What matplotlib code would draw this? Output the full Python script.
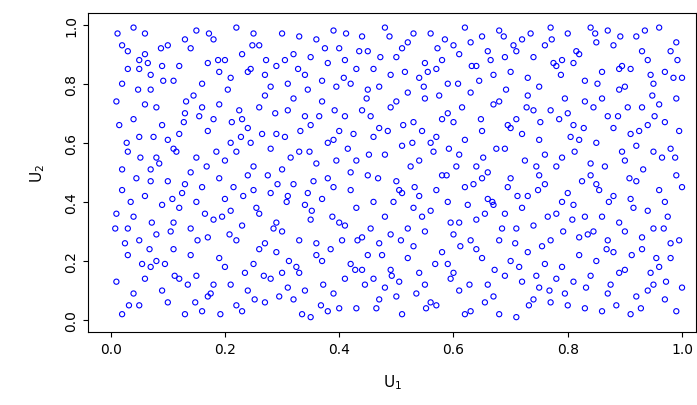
import matplotlib
matplotlib.use("Agg")
import matplotlib.pyplot as plt

# points (values as (U1, U2) pairs)
pts = """
0.01 0.74 0.02 0.93 0.03 0.85 0.04 0.99 0.05 0.88 0.06 0.90 0.07 0.83 0.08 0.72 0.10 0.93 0.12 0.86
0.14 0.92 0.16 0.80 0.18 0.95 0.20 0.88 0.22 0.99 0.24 0.84 0.26 0.93 0.28 0.79 0.30 0.97 0.32 0.90
0.34 0.83 0.36 0.95 0.38 0.87 0.40 0.92 0.42 0.80 0.44 0.96 0.46 0.85 0.48 0.99 0.50 0.89 0.52 0.94
0.54 0.82 0.56 0.97 0.58 0.88 0.60 0.93 0.62 0.99 0.64 0.86 0.66 0.91 0.68 0.98 0.70 0.84 0.72 0.95
0.74 0.89 0.76 0.93 0.78 0.86 0.80 0.97 0.82 0.90 0.84 0.99 0.86 0.84 0.88 0.93 0.90 0.79 0.92 0.96
0.94 0.88 0.96 0.99 0.98 0.91 1.00 0.82 0.03 0.57 0.05 0.62 0.07 0.51 0.09 0.66 0.11 0.58 0.13 0.70
0.15 0.55 0.17 0.64 0.19 0.73 0.21 0.60 0.23 0.68 0.25 0.52 0.27 0.76 0.29 0.63 0.31 0.71 0.33 0.57
0.35 0.66 0.37 0.74 0.39 0.61 0.41 0.69 0.43 0.54 0.45 0.78 0.47 0.65 0.49 0.72 0.51 0.59 0.53 0.67
0.55 0.75 0.57 0.62 0.59 0.70 0.61 0.56 0.63 0.77 0.65 0.64 0.67 0.73 0.69 0.58 0.71 0.68 0.73 0.76
0.75 0.61 0.77 0.71 0.79 0.55 0.81 0.66 0.83 0.74 0.85 0.60 0.87 0.69 0.89 0.78 0.91 0.63 0.93 0.72
0.95 0.57 0.97 0.67 0.99 0.75 0.02 0.44 0.04 0.35 0.06 0.42 0.08 0.29 0.10 0.47 0.12 0.38 0.14 0.31
0.16 0.45 0.18 0.34 0.20 0.41 0.22 0.27 0.24 0.49 0.26 0.36 0.28 0.43 0.30 0.30 0.32 0.46 0.34 0.39
0.36 0.26 0.38 0.48 0.40 0.33 0.42 0.44 0.44 0.28 0.46 0.40 0.48 0.35 0.50 0.47 0.52 0.31 0.54 0.42
0.56 0.37 0.58 0.49 0.60 0.29 0.62 0.45 0.64 0.34 0.66 0.41 0.68 0.27 0.70 0.48 0.72 0.38 0.74 0.32
0.76 0.46 0.78 0.36 0.80 0.43 0.82 0.28 0.84 0.49 0.86 0.35 0.88 0.42 0.90 0.30 0.92 0.47 0.94 0.37
0.96 0.44 0.98 0.26 1.00 0.45 0.01 0.13 0.03 0.22 0.05 0.05 0.07 0.18 0.09 0.10 0.11 0.24 0.13 0.02
0.15 0.15 0.17 0.08 0.19 0.21 0.21 0.12 0.23 0.03 0.25 0.19 0.27 0.06 0.29 0.23 0.31 0.11 0.33 0.16
0.35 0.01 0.37 0.20 0.39 0.09 0.41 0.14 0.43 0.04 0.45 0.22 0.47 0.07 0.49 0.17 0.51 0.02 0.53 0.25
0.55 0.12 0.57 0.05 0.59 0.19 0.61 0.10 0.63 0.03 0.65 0.21 0.67 0.08 0.69 0.15 0.71 0.01 0.73 0.23
0.75 0.11 0.77 0.06 0.79 0.18 0.81 0.13 0.83 0.04 0.85 0.20 0.87 0.09 0.89 0.16 0.91 0.02 0.93 0.24
0.95 0.12 0.97 0.07 0.99 0.03 0.02 0.80 0.06 0.97 0.09 0.86 0.13 0.95 0.17 0.87 0.21 0.82 0.25 0.97
0.29 0.86 0.33 0.96 0.37 0.81 0.41 0.88 0.45 0.91 0.49 0.83 0.53 0.97 0.57 0.85 0.61 0.90 0.65 0.96
0.69 0.89 0.73 0.82 0.77 0.99 0.81 0.87 0.85 0.94 0.89 0.85 0.93 0.91 0.97 0.84 0.04 0.68 0.08 0.55
0.12 0.63 0.16 0.72 0.20 0.54 0.24 0.65 0.28 0.58 0.32 0.75 0.36 0.53 0.40 0.64 0.44 0.71 0.48 0.56
0.52 0.77 0.56 0.60 0.60 0.67 0.64 0.52 0.68 0.74 0.72 0.63 0.76 0.56 0.80 0.70 0.84 0.53 0.88 0.65
0.92 0.59 0.96 0.73 0.01 0.36 0.05 0.27 0.09 0.39 0.13 0.46 0.17 0.28 0.21 0.37 0.25 0.44 0.29 0.33
0.33 0.27 0.37 0.41 0.41 0.32 0.45 0.49 0.49 0.29 0.53 0.38 0.57 0.44 0.61 0.33 0.65 0.48 0.69 0.36
0.73 0.42 0.77 0.27 0.81 0.39 0.85 0.46 0.89 0.33 0.93 0.28 0.97 0.40 0.04 0.09 0.08 0.20 0.12 0.14
0.16 0.03 0.20 0.18 0.24 0.10 0.28 0.14 0.32 0.07 0.36 0.22 0.40 0.04 0.44 0.17 0.48 0.11 0.52 0.21
0.56 0.06 0.60 0.16 0.64 0.24 0.68 0.02 0.72 0.13 0.76 0.19 0.80 0.05 0.84 0.15 0.88 0.23 0.92 0.08
0.96 0.18 1.00 0.11 0.03 0.91 0.07 0.78 0.11 0.81 0.15 0.98 0.19 0.84 0.23 0.90 0.27 0.83 0.31 0.80
0.35 0.89 0.39 0.98 0.43 0.85 0.47 0.79 0.51 0.92 0.55 0.87 0.59 0.80 0.63 0.94 0.67 0.83 0.71 0.91
0.75 0.79 0.79 0.88 0.83 0.81 0.87 0.98 0.91 0.85 0.95 0.80 0.99 0.94 0.02 0.51 0.06 0.73 0.10 0.61
0.14 0.50 0.18 0.68 0.22 0.57 0.26 0.72 0.30 0.51 0.34 0.69 0.38 0.60 0.42 0.50 0.46 0.62 0.50 0.74
0.54 0.54 0.58 0.68 0.62 0.61 0.66 0.50 0.70 0.65 0.74 0.71 0.78 0.52 0.82 0.61 0.86 0.75 0.90 0.54
0.94 0.66 0.98 0.58 0.03 0.31 0.07 0.47 0.11 0.33 0.15 0.40 0.19 0.48 0.23 0.32 0.27 0.26 0.31 0.42
0.35 0.34 0.39 0.45 0.43 0.38 0.47 0.26 0.51 0.43 0.55 0.30 0.59 0.40 0.63 0.27 0.67 0.39 0.71 0.31
0.75 0.49 0.79 0.40 0.83 0.35 0.87 0.27 0.91 0.41 0.95 0.31 0.99 0.49 0.02 0.02 0.06 0.14 0.10 0.06
0.14 0.22 0.18 0.12 0.22 0.05 0.26 0.24 0.30 0.16 0.34 0.10 0.38 0.03 0.42 0.19 0.46 0.14 0.50 0.08
0.54 0.16 0.58 0.23 0.62 0.02 0.66 0.12 0.70 0.20 0.74 0.07 0.78 0.14 0.82 0.22 0.86 0.03 0.90 0.17
0.94 0.10 0.98 0.21 0.05 0.85 0.115 0.57 0.205 0.78 0.255 0.38 0.305 0.62 0.355 0.47 0.405 0.27 0.455 0.69
0.505 0.13 0.555 0.84 0.605 0.52 0.655 0.36 0.705 0.93 0.755 0.25 0.805 0.62 0.855 0.44 0.905 0.72 0.955 0.21
0.045 0.48 0.095 0.19 0.145 0.76 0.195 0.35 0.245 0.60 0.295 0.08 0.345 0.78 0.395 0.54 0.445 0.12 0.495 0.40
0.545 0.64 0.595 0.33 0.645 0.81 0.695 0.45 0.745 0.15 0.795 0.75 0.845 0.30 0.895 0.57 0.945 0.83 0.995 0.64
0.025 0.26 0.075 0.62 0.125 0.43 0.175 0.09 0.225 0.71 0.275 0.49 0.325 0.18 0.375 0.92 0.425 0.63 0.475 0.22
0.525 0.52 0.575 0.76 0.625 0.39 0.675 0.58 0.725 0.54 0.775 0.87 0.825 0.47 0.875 0.12 0.925 0.64 0.975 0.35
0.015 0.66 0.035 0.40 0.055 0.19 0.065 0.87 0.085 0.53 0.105 0.30 0.135 0.12 0.155 0.69 0.165 0.36 0.185 0.57
0.215 0.45 0.235 0.16 0.245 0.85 0.265 0.63 0.285 0.31 0.305 0.88 0.315 0.55 0.335 0.02 0.345 0.43 0.365 0.69
0.385 0.24 0.395 0.79 0.415 0.58 0.435 0.91 0.455 0.31 0.465 0.04 0.485 0.64 0.505 0.44 0.515 0.84 0.535 0.09
0.545 0.35 0.565 0.57 0.585 0.95 0.595 0.14 0.615 0.72 0.635 0.46 0.655 0.06 0.665 0.88 0.685 0.31 0.695 0.66
0.715 0.18 0.735 0.97 0.745 0.52 0.765 0.35 0.785 0.68 0.795 0.09 0.815 0.91 0.835 0.29 0.845 0.72 0.865 0.52
0.885 0.05 0.895 0.86 0.915 0.38 0.935 0.98 0.945 0.16 0.965 0.55 0.985 0.82 0.995 0.27 0.012 0.97 0.032 0.05
0.052 0.55 0.072 0.33 0.092 0.81 0.112 0.15 0.132 0.74 0.152 0.27 0.172 0.97 0.192 0.02 0.212 0.67 0.232 0.42
0.252 0.07 0.272 0.88 0.292 0.46 0.312 0.20 0.332 0.64 0.352 0.37 0.372 0.12 0.392 0.71 0.412 0.97 0.432 0.27
0.452 0.56 0.472 0.89 0.492 0.15 0.512 0.66 0.532 0.45 0.552 0.04 0.572 0.92 0.592 0.58 0.612 0.25 0.632 0.86
0.652 0.55 0.672 0.17 0.692 0.78 0.712 0.42 0.732 0.05 0.752 0.67 0.772 0.95 0.792 0.30 0.812 0.57 0.832 0.11
0.852 0.80 0.872 0.40 0.892 0.96 0.912 0.22 0.932 0.51 0.952 0.69 0.972 0.13 0.992 0.88 0.008 0.31 0.028 0.60
0.048 0.78 0.068 0.24 0.088 0.92 0.108 0.41 0.128 0.67 0.148 0.06 0.168 0.52 0.188 0.88 0.208 0.29 0.228 0.62
0.248 0.93 0.268 0.15 0.288 0.70 0.308 0.40 0.328 0.85 0.348 0.57 0.368 0.05 0.388 0.35 0.408 0.82 0.428 0.17
0.448 0.75 0.468 0.48 0.488 0.96 0.508 0.27 0.528 0.60 0.548 0.79 0.568 0.19 0.588 0.49 0.608 0.80 0.628 0.12
0.648 0.68 0.668 0.40 0.688 0.96 0.708 0.26 0.728 0.72 0.748 0.44 0.768 0.10 0.788 0.83 0.808 0.34 0.828 0.65
0.848 0.97 0.868 0.24 0.888 0.69 0.908 0.48 0.928 0.04 0.948 0.76 0.968 0.31 0.988 0.55
"""
vals = [float(v) for v in pts.split()]
u1 = vals[0::2]
u2 = vals[1::2]

fig = plt.figure(figsize=(6.97, 4.06), dpi=100)
ax = fig.add_axes([0.126, 0.18, 0.873, 0.786])
ax.scatter(u1, u2, s=14, facecolors="none", edgecolors="blue", linewidths=0.8)
ax.set_xlim(-0.04, 1.025)
ax.set_ylim(-0.04, 1.04)
ticks = [0.0, 0.2, 0.4, 0.6, 0.8, 1.0]
ax.set_xticks(ticks)
ax.set_yticks(ticks)
ax.set_xticklabels([f"{t:.1f}" for t in ticks], fontsize=10)
ax.set_yticklabels([f"{t:.1f}" for t in ticks], fontsize=10, rotation=90, va="center")
ax.set_xlabel("U$_1$", fontsize=11, labelpad=12)
ax.set_ylabel("U$_2$", fontsize=11, labelpad=12)
for s in ax.spines.values():
    s.set_color("black")
fig.savefig("out.png", dpi=100)
